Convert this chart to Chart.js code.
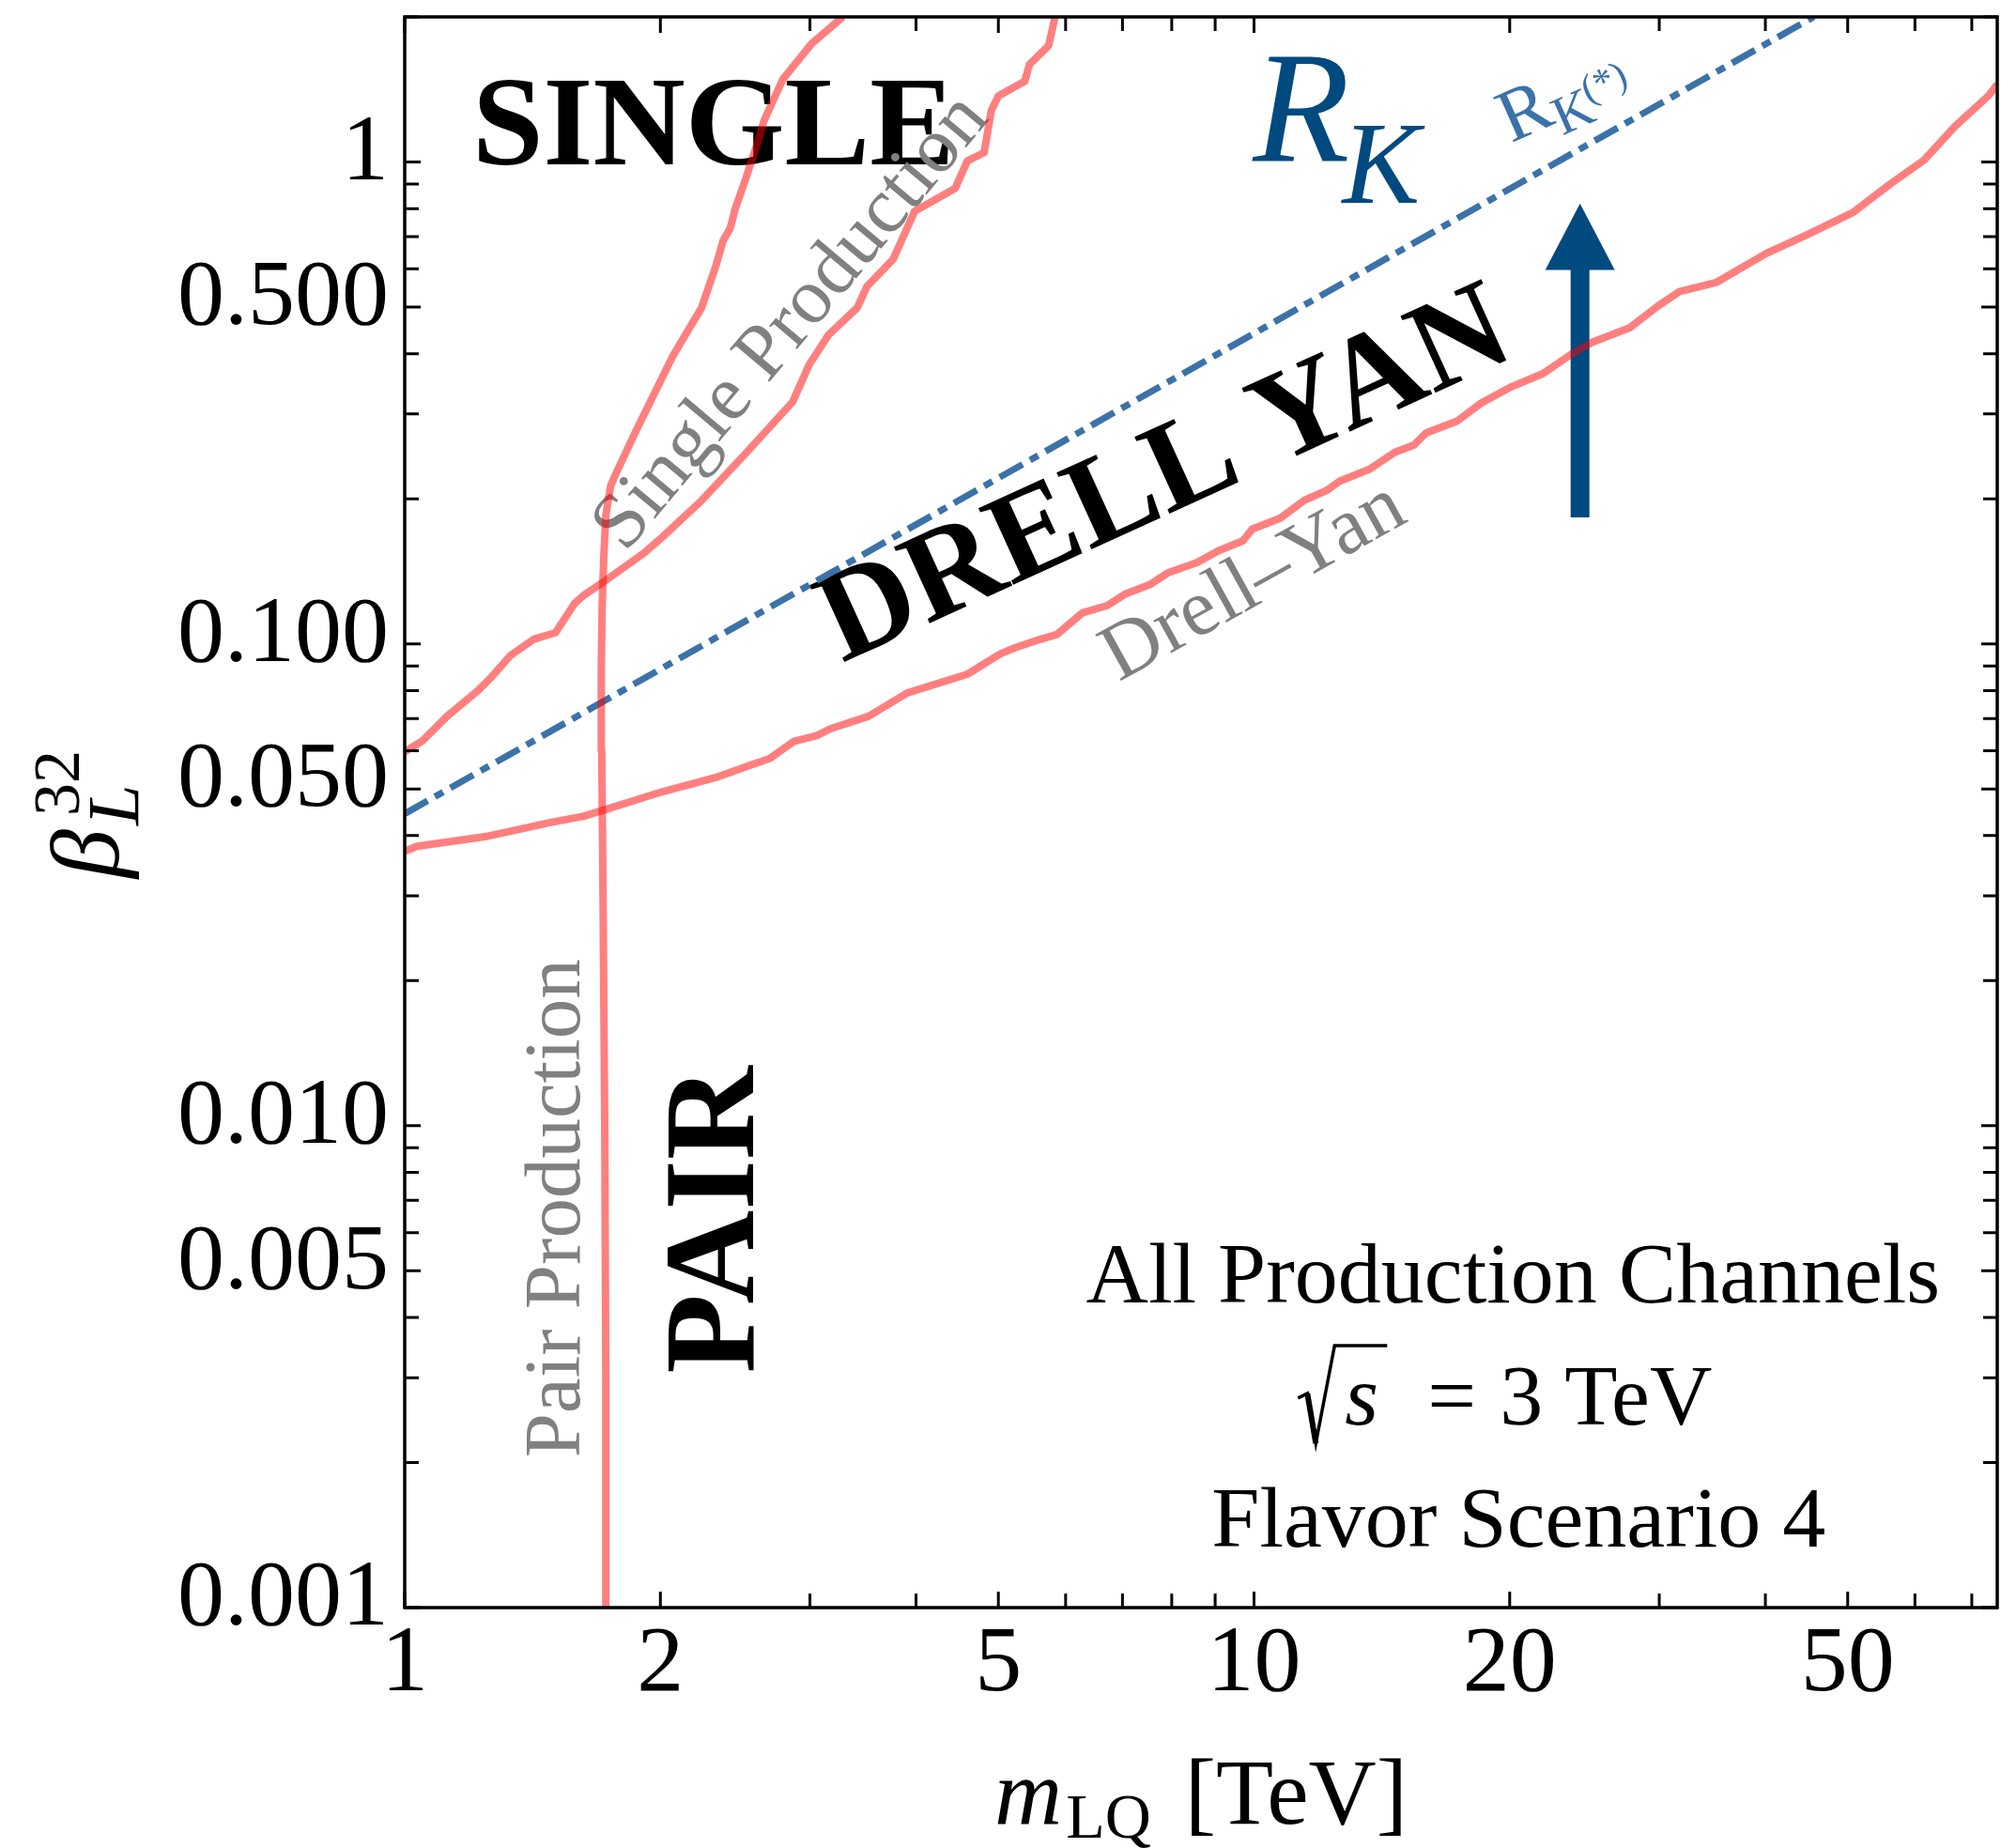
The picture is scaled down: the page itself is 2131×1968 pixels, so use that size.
<!DOCTYPE html>
<html><head><meta charset="utf-8">
<script src="https://cdn.jsdelivr.net/npm/chart.js@4.4.1/dist/chart.umd.min.js"></script>
<style>html,body{margin:0;padding:0;background:#fff;}canvas{display:block;}</style>
</head><body>
<canvas id="c" width="2131" height="1968"></canvas>
<script>
// ---------- DATA ----------
const xTickValues = [1,2,3,4,5,6,7,8,9,10,20,30,40,50,60,70];
const xLabelValues = [1,2,5,10,20,50];
const xLabelTexts  = ['1','2','5','10','20','50'];
const yTickValues = [0.001,0.002,0.003,0.004,0.005,0.006,0.007,0.008,0.009,
                     0.01,0.02,0.03,0.04,0.05,0.06,0.07,0.08,0.09,
                     0.1,0.2,0.3,0.4,0.5,0.6,0.7,0.8,0.9,1,2];
const yLabelValues = [0.001,0.005,0.01,0.05,0.1,0.5,1];
const yLabelTexts  = ['0.001','0.005','0.010','0.050','0.100','0.500','1'];

// Drell-Yan limit
const dyX = [1,1.034,1.254,1.476,1.626,1.737,2.008,2.325,2.522,2.69,2.87,3.063,3.167,3.515,3.908,4.597,5.025,5.234,5.485,5.86,6.28,6.71,7.06,7.54,7.93,8.56,9.08,9.70,9.95,10.74,11.47,12.17,12.61,13.69,14.64,15.42,15.93,17.33,18.51,19.98,21.9,23.63,25.05,27.7,29.87,31.67,35.06,40.1,44.7,50.7,56.1,61.5,66.9,73.3,75];
const dyY = [0.0371,0.0380,0.0399,0.0425,0.0439,0.0455,0.0493,0.0528,0.0556,0.0578,0.0627,0.0646,0.0666,0.0707,0.0791,0.0865,0.0953,0.0982,0.101,0.1046,0.116,0.120,0.127,0.1327,0.1406,0.1474,0.156,0.1635,0.173,0.1824,0.1987,0.208,0.2175,0.2305,0.2497,0.2584,0.2737,0.2897,0.316,0.340,0.364,0.399,0.423,0.453,0.502,0.538,0.563,0.646,0.705,0.785,0.900,1.009,1.186,1.374,1.45];

// Single production limit
const singleX = [1,1.049,1.123,1.219,1.262,1.331,1.42,1.505,1.585,1.627,1.725,1.913,2.016,2.236,2.513,2.862,2.995,3.155,3.41,3.50,3.758,3.984,4.449,4.597,4.811,4.905,5.0,5.37,5.44,5.73,5.83];
const singleY = [0.0597,0.0629,0.0709,0.0799,0.0849,0.0945,0.1023,0.1055,0.1213,0.1263,0.1355,0.1543,0.1673,0.1983,0.247,0.3176,0.380,0.4377,0.4983,0.551,0.6276,0.790,0.882,1.005,1.046,1.278,1.371,1.47,1.594,1.744,2.0];

// Pair production limit
const pairX = [1.728,1.725,1.72,1.712,1.706,1.704,1.708,1.715,1.725,1.748,1.77,1.865,1.939,2.069,2.236,2.325,2.371,2.417,2.449,2.513,2.614,2.648,2.788,3.015,3.28];
const pairY = [0.001,0.003,0.01,0.03,0.06,0.09,0.12,0.15,0.185,0.213,0.224,0.273,0.314,0.396,0.498,0.609,0.687,0.729,0.798,0.909,1.122,1.216,1.486,1.761,2.0];

// R_K(*) line
const rkX = [1, 45.6];
const rkY = [0.0444, 2.0];

// arrow
const arrowX = 24.2, arrowFrom = 0.183, arrowHeadBase = 0.597, arrowTo = 0.82;

// ---------- STYLE ----------
const SERIF = "'Liberation Serif','Times New Roman',serif";
const RED = 'rgba(255,0,0,0.5)';
const BLUE_LINE = '#3b72a8';
const DARK_BLUE = '#004a7f';
const GRAY = '#808080';

function pts(xs, ys){ return xs.map((x,i)=>({x:x, y:ys[i]})); }
function labelFor(v, vals, texts){
  for (let i=0;i<vals.length;i++){ if (Math.abs(v-vals[i]) < vals[i]*1e-6) return texts[i]; }
  return '';
}
function isMajor(v, vals){ return labelFor(v, vals, vals.map(()=> 'x')) !== ''; }

function rtext(ctx, str, x, y, deg, font, color, align){
  ctx.save();
  ctx.translate(x, y);
  ctx.rotate(deg*Math.PI/180);
  ctx.font = font; ctx.fillStyle = color;
  ctx.textAlign = align || 'center'; ctx.textBaseline = 'alphabetic';
  ctx.fillText(str, 0, 0);
  ctx.restore();
}

const decor = {
  id: 'decor',
  beforeDatasetsDraw(chart){
    const ctx = chart.ctx, xs = chart.scales.x, ys = chart.scales.y;
    const P = (xv, yv) => [xs.getPixelForValue(xv), ys.getPixelForValue(yv)];
    ctx.save();
    // arrow
    const ax = xs.getPixelForValue(arrowX);
    const ay0 = ys.getPixelForValue(arrowFrom), ayh = ys.getPixelForValue(arrowHeadBase), ay1 = ys.getPixelForValue(arrowTo);
    ctx.fillStyle = DARK_BLUE;
    ctx.fillRect(ax-10, ayh-1, 20, ay0-ayh+1);
    ctx.beginPath(); ctx.moveTo(ax-37, ayh); ctx.lineTo(ax+37, ayh); ctx.lineTo(ax, ay1); ctx.closePath(); ctx.fill();

    // big labels
    let p = P(1.201, 0.987);
    rtext(ctx, 'SINGLE', p[0], p[1], 0, 'bold 136px '+SERIF, '#000', 'left');
    p = P(8.18, 0.1905);
    rtext(ctx, 'DRELL YAN', p[0], p[1], -24.5, 'bold 137px '+SERIF, '#000', 'center');
    p = P(2.57, 0.00638);
    rtext(ctx, 'PAIR', p[0], p[1], -90, 'bold 138px '+SERIF, '#000', 'center');

    // gray curve labels
    p = P(2.983, 0.435);
    rtext(ctx, 'Single Production', p[0], p[1], -50, '84px '+SERIF, GRAY, 'center');
    p = P(1.605, 0.00674);
    rtext(ctx, 'Pair Production', p[0], p[1], -90, '85px '+SERIF, GRAY, 'center');
    p = P(10.28, 0.1225);
    rtext(ctx, 'Drell\u2013Yan', p[0], p[1], -29, '86px '+SERIF, GRAY, 'center');

    // R_K big
    p = P(9.97, 1.0);
    rtext(ctx, 'R', p[0], p[1], 0, 'italic 169px '+SERIF, DARK_BLUE, 'left');
    p = P(12.7, 0.821);
    rtext(ctx, 'K', p[0], p[1], 0, 'italic 124px '+SERIF, DARK_BLUE, 'left');

    // R_K(*) small, rotated
    p = P(20.08, 1.094);
    ctx.save();
    ctx.translate(p[0], p[1]); ctx.rotate(-24*Math.PI/180);
    ctx.fillStyle = BLUE_LINE; ctx.textAlign='left'; ctx.textBaseline='alphabetic';
    ctx.font = '80px '+SERIF; ctx.fillText('R', 0, 0);
    ctx.font = '58px '+SERIF; ctx.fillText('K', 53, 15);
    ctx.font = '42px '+SERIF; ctx.fillText('(*)', 92, -6);
    ctx.restore();

    // info box text
    const cx = xs.getPixelForValue(20.18);
    const b1 = ys.getPixelForValue(0.0043), b2 = ys.getPixelForValue(0.0024), b3 = ys.getPixelForValue(0.00134);
    ctx.fillStyle = '#000'; ctx.textBaseline='alphabetic';
    ctx.font = '92px '+SERIF; ctx.textAlign='center';
    ctx.fillText('All Production Channels', cx, b1);
    ctx.fillText('Flavor Scenario 4', cx+6, b3);
    // sqrt(s) = 3 TeV
    const l = cx - 229;
    ctx.strokeStyle = '#000'; ctx.lineWidth = 3.5; ctx.lineJoin='miter';
    ctx.beginPath();
    ctx.moveTo(l, b2-28); ctx.lineTo(l+10, b2-33); ctx.lineTo(l+19, b2+20); ctx.lineTo(l+39, b2-84); ctx.lineTo(l+95, b2-84);
    ctx.stroke();
    ctx.lineWidth = 6; ctx.beginPath(); ctx.moveTo(l+10, b2-33); ctx.lineTo(l+19, b2+20); ctx.stroke();
    ctx.textAlign='left';
    ctx.font = 'italic 92px '+SERIF; ctx.fillText('s', l+50, b2);
    ctx.font = '92px '+SERIF; ctx.fillText('=', l+138, b2);
    ctx.fillText('3 TeV', l+215, b2);
    ctx.restore();
  },
  afterDatasetsDraw(chart){
    const ctx = chart.ctx, a = chart.chartArea, xs = chart.scales.x, ys = chart.scales.y;
    ctx.save();
    ctx.strokeStyle = '#000'; ctx.lineWidth = 3; ctx.lineCap='butt';
    ctx.beginPath();
    xTickValues.forEach(v => {
      const px = xs.getPixelForValue(v); const L = isMajor(v, xLabelValues) ? 17 : 15;
      ctx.moveTo(px, a.bottom); ctx.lineTo(px, a.bottom - L);
      ctx.moveTo(px, a.top); ctx.lineTo(px, a.top + L);
    });
    yTickValues.forEach(v => {
      const py = ys.getPixelForValue(v); const L = isMajor(v, yLabelValues) ? 17 : 15;
      ctx.moveTo(a.left, py); ctx.lineTo(a.left + L, py);
      ctx.moveTo(a.right, py); ctx.lineTo(a.right - L, py);
    });
    ctx.stroke();
    ctx.lineWidth = 3.5;
    ctx.strokeRect(a.left, a.top, a.right - a.left, a.bottom - a.top);
    ctx.restore();
  },
  afterDraw(chart){
    const ctx = chart.ctx, a = chart.chartArea;
    ctx.save();
    ctx.fillStyle = '#000'; ctx.textBaseline = 'alphabetic'; ctx.textAlign = 'left';
    // x title: m_LQ [TeV]
    const mid = (a.left + a.right)/2;
    const base = 1942;
    ctx.font = 'italic 100px '+SERIF;
    const wm = ctx.measureText('m').width;
    ctx.font = '68px '+SERIF;
    const wsub = ctx.measureText('LQ').width;
    ctx.font = '100px '+SERIF;
    const wt = ctx.measureText('[TeV]').width;
    const gap1 = 4, gap2 = 36;
    let x0 = mid - (wm + gap1 + wsub + gap2 + wt)/2;
    ctx.font = 'italic 100px '+SERIF; ctx.fillText('m', x0, base);
    ctx.font = '68px '+SERIF; ctx.fillText('LQ', x0 + wm + gap1, base + 15);
    ctx.font = '100px '+SERIF; ctx.fillText('[TeV]', x0 + wm + gap1 + wsub + gap2, base);

    // y title: beta_L^32
    const ymid = (a.top + a.bottom)/2;
    ctx.translate(126, ymid + 70);
    ctx.rotate(-Math.PI/2);
    ctx.font = 'italic 104px '+SERIF; ctx.fillText('\u03B2', 0, 0);
    ctx.font = '70px '+SERIF; ctx.fillText('32', 66, -42);
    ctx.font = 'italic 78px '+SERIF; ctx.fillText('L', 56, 21);
    ctx.restore();
  }
};

const tickFont = {family: SERIF, size: 100};

new Chart(document.getElementById('c'), {
  type: 'scatter',
  data: {
    datasets: [
      {label:'Pair Production', data: pts(pairX, pairY), showLine:true, borderColor: RED, borderWidth: 8, pointRadius: 0, fill:false, tension:0, borderJoinStyle:'round'},
      {label:'Single Production', data: pts(singleX, singleY), showLine:true, borderColor: RED, borderWidth: 8, pointRadius: 0, fill:false, tension:0, borderJoinStyle:'round'},
      {label:'Drell-Yan', data: pts(dyX, dyY), showLine:true, borderColor: RED, borderWidth: 8, pointRadius: 0, fill:false, tension:0, borderJoinStyle:'round'},
      {label:'R_K(*)', data: pts(rkX, rkY), showLine:true, borderColor: BLUE_LINE, borderWidth: 7, borderDash:[28,9,10,9], borderCapStyle:'butt', pointRadius: 0, fill:false, tension:0}
    ]
  },
  options: {
    responsive: false, animation: false, devicePixelRatio: 1,
    layout: {padding: {left: 0, top: 18, right: 4, bottom: 0}},
    plugins: {legend: {display: false}, tooltip: {enabled: false}},
    scales: {
      x: {
        type: 'logarithmic', min: 1, max: 75,
        afterBuildTicks: s => { s.ticks = xTickValues.map(v => ({value: v})); },
        afterFit: s => { s.height = 256; s.paddingLeft = 0; s.paddingRight = 0; },
        grid: {display: false, drawTicks: false},
        border: {display: false},
        ticks: {autoSkip: false, maxRotation: 0, minRotation: 0, padding: 2, font: tickFont, color: '#000',
                callback: v => labelFor(v, xLabelValues, xLabelTexts)}
      },
      y: {
        type: 'logarithmic', min: 0.001, max: 2,
        afterBuildTicks: s => { s.ticks = yTickValues.map(v => ({value: v})); },
        afterFit: s => { s.width = 431; s.paddingTop = 0; s.paddingBottom = 0; },
        grid: {display: false, drawTicks: false},
        border: {display: false},
        ticks: {autoSkip: false, padding: 17, labelOffset: -8, font: tickFont, color: '#000',
                callback: v => labelFor(v, yLabelValues, yLabelTexts)}
      }
    }
  },
  plugins: [decor]
});
</script>
</body></html>
